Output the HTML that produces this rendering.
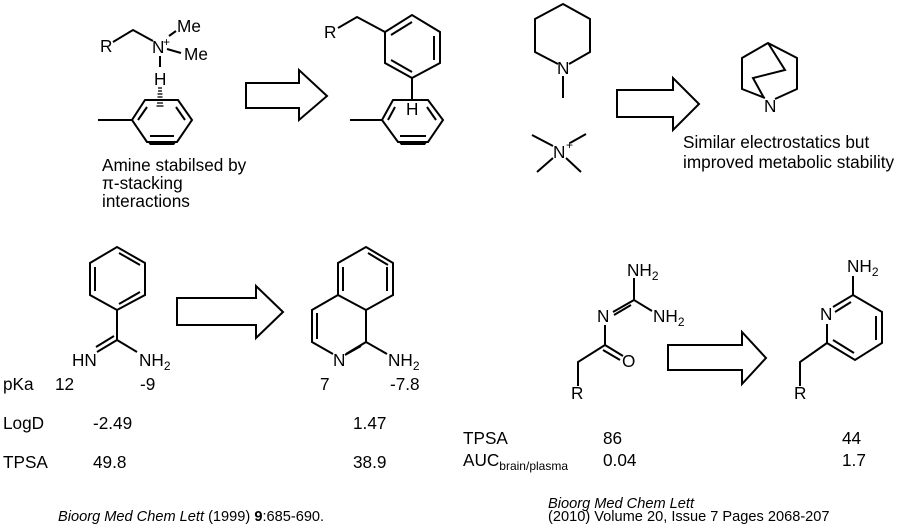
<!DOCTYPE html>
<html><head><meta charset="utf-8"><style>
html,body{margin:0;padding:0;background:#fff;}
svg{display:block;}
text{font-family:"Liberation Sans",Arial,sans-serif;fill:#000;}
.t{font-size:17.2px;}
.s{font-size:12px;}
.f{font-size:14.6px;}
</style></head><body>
<svg width="901" height="532" viewBox="0 0 901 532" xmlns="http://www.w3.org/2000/svg">
<g stroke="#000" stroke-width="2" fill="none" stroke-linejoin="miter">
<polyline points="113,42 133,30 153,41"/>
<line x1="169" y1="36" x2="176" y2="31"/>
<line x1="167" y1="49" x2="181" y2="53"/>
<line x1="160" y1="56" x2="160" y2="67"/>
<polygon points="145,100 178,100 192,120 177,142 147,142 132,120"/>
<line x1="98" y1="120" x2="132" y2="120"/>
<line x1="147" y1="107" x2="138" y2="120"/>
<line x1="176" y1="107" x2="185" y2="120"/>
<line x1="150" y1="136" x2="174" y2="136"/>
</g>
<polygon points="147,141 177,141 174,145 150,145" fill="#000"/>
<g stroke="#000" stroke-width="1.3">
<line x1="158" y1="88" x2="162" y2="88"/><line x1="158" y1="91" x2="162" y2="91"/>
<line x1="157.5" y1="94" x2="162.5" y2="94"/><line x1="157.5" y1="97" x2="162.5" y2="97"/>
<line x1="157" y1="100" x2="163" y2="100"/><line x1="157" y1="103" x2="163" y2="103"/>
<line x1="156.5" y1="106" x2="163.5" y2="106"/>
</g>
<text class="t" x="100" y="52">R</text>
<text class="t" x="152" y="53">N</text>
<text class="s" x="163" y="46">+</text>
<text class="t" x="177" y="32">Me</text>
<text class="t" x="184" y="60">Me</text>
<text class="t" x="154" y="85">H</text>
<text class="t" x="102" y="171">Amine stabilsed by</text>
<text class="t" x="102" y="189">π-stacking</text>
<text class="t" x="102" y="207">interactions</text>

<g stroke="#000" stroke-width="2" fill="none">
<polygon points="246,83 299,83 299,70 327,96 299,120 299,108 246,108"/>
<polyline points="338,28 357,17 385,32"/>
<polygon points="385,32 412,15 440,32 440,63 412,78 385,63"/>
<line x1="391" y1="35" x2="412" y2="22"/>
<line x1="434" y1="36" x2="434" y2="60"/>
<line x1="391" y1="60" x2="412" y2="72"/>
<line x1="412" y1="78" x2="412" y2="100"/>
<polygon points="393,100 428,100 443,120 428,142 398,142 382,120"/>
<line x1="350" y1="120" x2="382" y2="120"/>
<line x1="395" y1="107" x2="388" y2="120"/>
<line x1="427" y1="107" x2="436" y2="120"/>
<line x1="400" y1="136" x2="426" y2="136"/>
</g>
<polygon points="398,141 428,141 425,145 401,145" fill="#000"/>
<rect x="405" y="101" width="15" height="16" fill="#fff"/>
<text class="t" x="406" y="115">H</text>
<text class="t" x="324" y="38">R</text>

<g stroke="#000" stroke-width="2" fill="none">
<polyline points="558,64 535,52 535,19 563,4 590,19 590,52 569,64"/>
<line x1="563" y1="76" x2="563" y2="98"/>
<line x1="532" y1="135" x2="553" y2="146"/>
<line x1="586" y1="134" x2="570" y2="143"/>
<line x1="537" y1="172" x2="553" y2="158"/>
<line x1="581" y1="172" x2="566" y2="158"/>
<polygon points="617,90 673,90 673,78 699,104 673,130 673,117 617,117"/>
<polyline points="765,98 742,89 742,58 768,43 797,58 797,89 775,99"/>
<polyline points="768,43 785,70 753,78 764,98"/>
</g>
<text class="t" x="557" y="74">N</text>
<text class="t" x="553" y="158">N</text>
<text class="s" x="566" y="149">+</text>
<text class="t" x="764" y="112">N</text>
<text class="t" x="683" y="148">Similar electrostatics but</text>
<text class="t" x="683" y="168">improved metabolic stability</text>

<g stroke="#000" stroke-width="2" fill="none">
<polygon points="117,247 145,263 145,295 117,310 90,295 90,263"/>
<line x1="95" y1="267" x2="95" y2="291"/>
<line x1="119" y1="253" x2="140" y2="265"/>
<line x1="119" y1="304" x2="140" y2="292"/>
<line x1="117" y1="310" x2="117" y2="340"/>
<line x1="117" y1="340" x2="97" y2="352"/>
<line x1="114" y1="336" x2="96" y2="347"/>
<line x1="117" y1="340" x2="137" y2="352"/>
<polygon points="177,298 256,298 256,286 283,312 256,338 256,325 177,325"/>
<polygon points="366,247 393,263 393,295 366,310 338,295 338,263"/>
<line x1="343" y1="267" x2="343" y2="291"/>
<line x1="368" y1="253" x2="388" y2="265"/>
<line x1="387" y1="267" x2="387" y2="291"/>
<polyline points="338,295 312,310 312,342 333,354"/>
<line x1="317" y1="313" x2="317" y2="339"/>
<polyline points="366,310 366,342 346,354"/>
<line x1="361" y1="346" x2="345" y2="355"/>
<line x1="366" y1="342" x2="387" y2="354"/>
</g>
<text class="t" x="72" y="366">HN</text>
<text class="t" x="139" y="366">NH<tspan class="s" dy="4">2</tspan></text>
<text class="t" x="333" y="366">N</text>
<text class="t" x="388" y="366">NH<tspan class="s" dy="4">2</tspan></text>
<text class="t" x="3" y="390">pKa</text>
<text class="t" x="55" y="390">12</text>
<text class="t" x="140" y="390">-9</text>
<text class="t" x="320" y="390">7</text>
<text class="t" x="390" y="390">-7.8</text>
<text class="t" x="3" y="429">LogD</text>
<text class="t" x="93" y="429">-2.49</text>
<text class="t" x="353" y="429">1.47</text>
<text class="t" x="3" y="468">TPSA</text>
<text class="t" x="93" y="468">49.8</text>
<text class="t" x="353" y="468">38.9</text>

<g stroke="#000" stroke-width="2" fill="none">
<line x1="634" y1="278" x2="634" y2="300"/>
<line x1="634" y1="300" x2="613" y2="312"/>
<line x1="631" y1="305" x2="614" y2="315"/>
<line x1="634" y1="300" x2="652" y2="311"/>
<line x1="605" y1="325" x2="605" y2="345"/>
<line x1="605" y1="345" x2="623" y2="356"/>
<line x1="603" y1="350" x2="620" y2="360"/>
<polyline points="605,345 578,362 578,386"/>
<polygon points="668,345 742,345 742,332 766,358 742,384 742,370 668,370"/>
<line x1="853" y1="276" x2="853" y2="295"/>
<polyline points="833,307 853,295 882,312 882,343 855,360 827,343 827,324"/>
<line x1="835" y1="312" x2="851" y2="302"/>
<line x1="876" y1="316" x2="876" y2="340"/>
<line x1="833" y1="340" x2="854" y2="353"/>
<polyline points="827,343 800,362 800,386"/>
</g>
<text class="t" x="627" y="276">NH<tspan class="s" dy="4">2</tspan></text>
<text class="t" x="597" y="322">N</text>
<text class="t" x="653" y="322">NH<tspan class="s" dy="4">2</tspan></text>
<text class="t" x="622" y="367">O</text>
<text class="t" x="571" y="399">R</text>
<text class="t" x="847" y="272">NH<tspan class="s" dy="4">2</tspan></text>
<text class="t" x="820" y="320">N</text>
<text class="t" x="794" y="399">R</text>
<text class="t" x="463" y="444">TPSA</text>
<text class="t" x="603" y="444">86</text>
<text class="t" x="842" y="444">44</text>
<text class="t" x="463" y="466">AUC<tspan class="s" dy="4">brain/plasma</tspan></text>
<text class="t" x="603" y="466">0.04</text>
<text class="t" x="842" y="466">1.7</text>

<text class="f" x="58" y="521"><tspan font-style="italic">Bioorg Med Chem Lett</tspan> (1999) <tspan font-weight="bold">9</tspan>:685-690.</text>
<text class="f" x="548" y="508" font-style="italic">Bioorg Med Chem Lett</text>
<text class="f" x="548" y="521">(2010) Volume 20, Issue 7 Pages 2068-207</text>
</svg>
</body></html>
